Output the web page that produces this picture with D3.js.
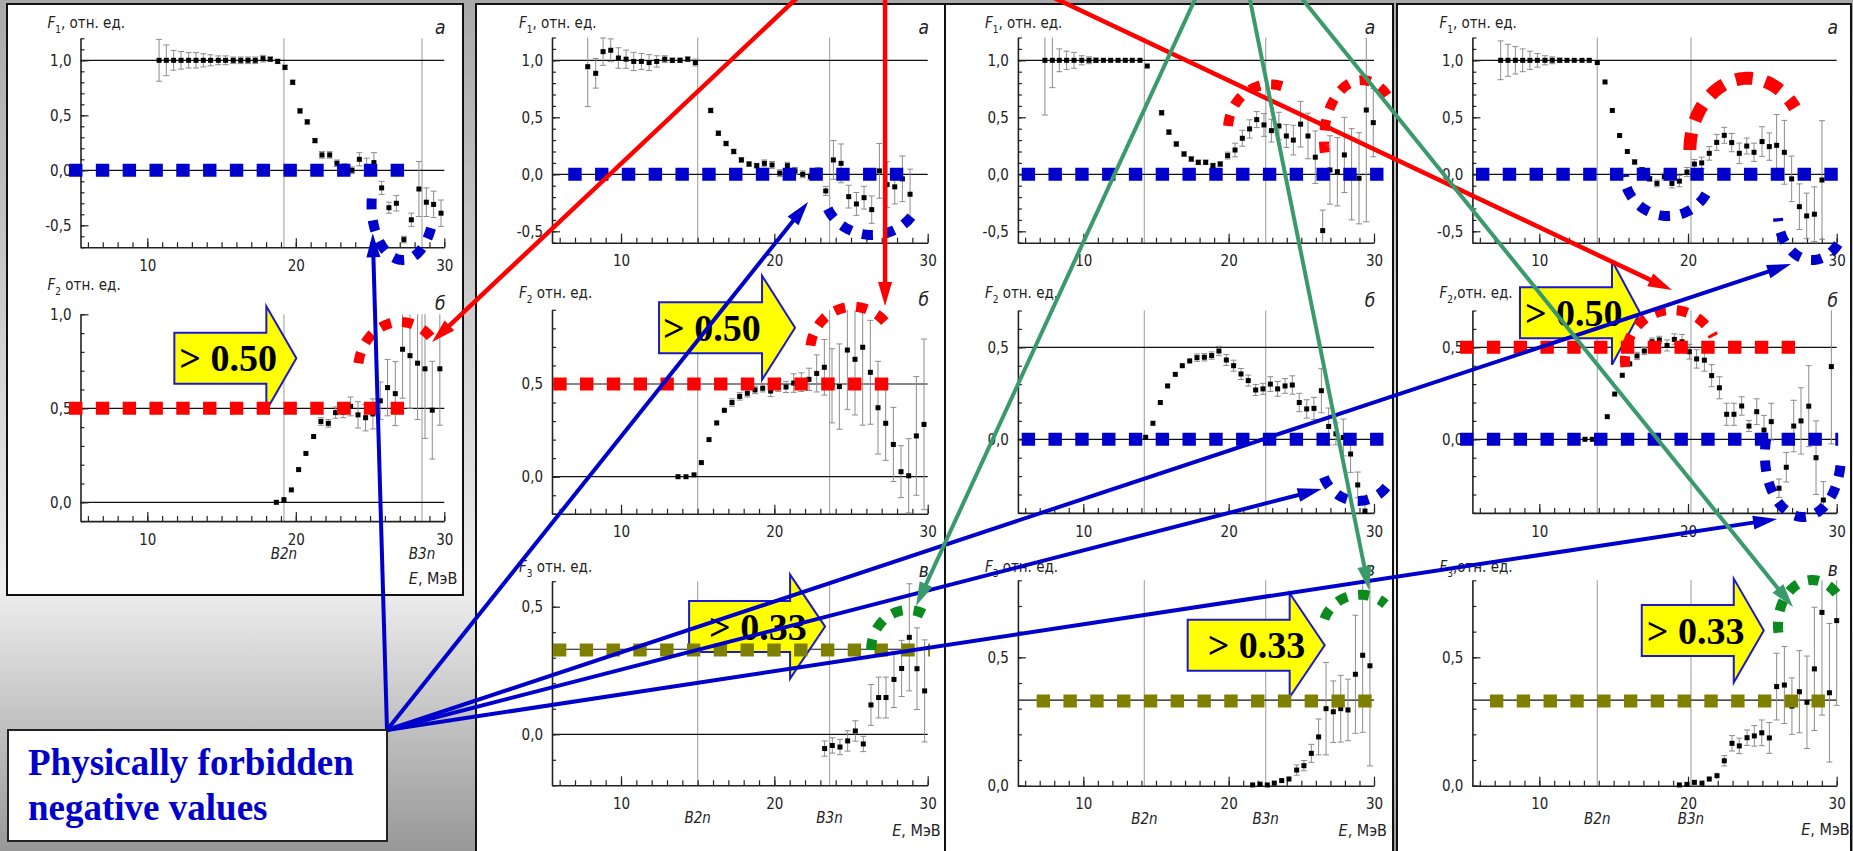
<!DOCTYPE html>
<html>
<head>
<meta charset="utf-8">
<script src="https://cdn.jsdelivr.net/npm/d3@7"></script>
<style>
  html, body { margin: 0; padding: 0; overflow: hidden; }
  svg { display: block; }
  .tick text, .lab { font-family: "Liberation Sans Narrow", "Arial Narrow", "DejaVu Sans Condensed", sans-serif; fill: #222; }
</style>
</head>
<body>
<svg id="fig" width="1853" height="851"></svg>
<script>
// ---------------------------------------------------------------
// Energy axis (MeV), common to every plot
const energyDomain = [5.5, 30];
const energyMajorTicks = [10, 20, 30];
const energyMinorTicks = d3.range(6, 31, 1);

// Separation thresholds B2n and B3n for the four nuclei (left to right)
const thresholdB2n = [19.2, 15.0, 14.2, 13.9];
const thresholdB3n = [28.5, 23.6, 22.55, 20.2];

// Limits of F1, F2, F3 for a physical multiplicity distribution
const limitF1 = 0;
const limitF2 = 0.5;
const limitF3 = 0.33;
const calloutTexts = { F2: "> 0.50", F3: "> 0.33" };

// Measured ratios: [E (MeV), F, error]
const p1F1 = [
  [10.79,1.00,0.19],[11.28,1.00,0.14],[11.77,1.00,0.09],[12.27,1.00,0.08],[12.78,1.00,0.07],[13.28,1.00,0.07],
  [13.77,1.00,0.06],[14.26,1.00,0.05],[14.78,1.00,0.04],[15.27,1.00,0.04],[15.79,1.00,0.03],[16.29,1.00,0.03],
  [16.78,1.00,0.03],[17.27,1.00,0.03],[17.79,1.015,0.03],[18.28,1.01,0.02],[18.78,0.99,0.02],[19.27,0.936,0.02],
  [19.79,0.80,0.02],[20.28,0.54,0.02],[20.77,0.44,0.02],[21.29,0.27,0.02],[21.76,0.14,0.03],[22.28,0.14,0.03],
  [22.77,0.064,0.03],[23.29,0.02,0.04],[23.78,0.0,0.03],[24.28,0.10,0.06],[24.77,0.03,0.08],[25.26,0.07,0.09],
  [25.78,-0.16,0.06],[26.27,-0.34,0.05],[26.77,-0.30,0.07],[27.28,-0.63,0.03],[27.78,-0.45,0.06],[28.29,-0.17,0.25],
  [28.79,-0.29,0.13],[29.28,-0.31,0.12],[29.78,-0.39,0.12]
];
const p1F2 = [
  [18.69,0.0,0.005],[19.2,0.014,0.01],[19.7,0.066,0.01],[20.19,0.174,0.01],[20.68,0.26,0.01],[21.2,0.35,0.015],
  [21.69,0.43,0.02],[22.19,0.42,0.02],[22.68,0.477,0.03],[23.19,0.48,0.03],[23.69,0.51,0.05],[24.19,0.465,0.07],
  [24.7,0.45,0.07],[25.19,0.47,0.08],[25.69,0.54,0.1],[26.18,0.61,0.15],[26.7,0.578,0.17],[27.19,0.814,0.26],
  [27.69,0.78,0.28],[28.2,0.74,0.3],[28.7,0.71,0.37],[29.19,0.49,0.26],[29.7,0.71,0.3]
];
const p2F1 = [
  [7.83,0.944,0.35],[8.35,0.886,0.13],[8.83,1.076,0.12],[9.33,1.088,0.1],[9.83,1.02,0.09],[10.33,1.01,0.08],
  [10.83,0.99,0.08],[11.33,0.99,0.07],[11.83,0.98,0.07],[12.33,0.99,0.05],[12.85,1.01,0.03],[13.35,1.0,0.02],
  [13.85,1.0,0.02],[14.35,1.01,0.02],[14.85,0.98,0.03],[15.85,0.56,0.02],[16.35,0.36,0.02],
  [16.85,0.27,0.02],[17.35,0.2,0.02],[17.85,0.126,0.02],[18.35,0.09,0.02],[18.85,0.076,0.02],[19.35,0.096,0.03],
  [19.85,0.082,0.03],[20.35,0.01,0.03],[20.85,0.076,0.03],[21.35,0.03,0.03],[21.85,0.0,0.03],[22.35,-0.02,0.03],
  [22.85,0.02,0.04],[23.35,-0.146,0.04],[23.85,0.126,0.17],[24.35,0.096,0.17],[24.85,-0.196,0.1],[25.35,-0.26,0.1],
  [25.85,-0.205,0.1],[26.35,-0.31,0.12],[26.85,0.03,0.24],[27.35,-0.09,0.2],[27.85,-0.11,0.15],[28.35,-0.04,0.2],
  [28.85,-0.175,0.22]
];
const p2F2 = [
  [13.72,0.0,0.005],[14.24,0.0,0.005],[14.76,0.01,0.005],[15.24,0.076,0.01],[15.74,0.2,0.01],[16.24,0.29,0.015],
  [16.74,0.358,0.015],[17.24,0.4,0.02],[17.74,0.433,0.02],[18.24,0.45,0.02],[18.74,0.468,0.02],[19.24,0.477,0.02],
  [19.76,0.462,0.03],[20.26,0.49,0.03],[20.76,0.484,0.03],[21.26,0.505,0.05],[21.76,0.51,0.05],[22.26,0.525,0.06],
  [22.76,0.557,0.1],[23.26,0.59,0.15],[23.76,0.49,0.2],[24.24,0.486,0.23],[24.76,0.683,0.32],[25.26,0.633,0.3],
  [25.76,0.698,0.42],[26.26,0.563,0.28],[26.76,0.372,0.25],[27.26,0.288,0.2],[27.76,0.174,0.2],[28.26,0.027,0.14],
  [28.76,0.005,0.2],[29.26,0.22,0.32],[29.76,0.282,0.46]
];
const p2F3 = [
  [23.28,-0.056,0.03],[23.78,-0.044,0.03],[24.28,-0.05,0.03],[24.78,-0.026,0.04],[25.28,0.013,0.04],[25.8,-0.038,0.03],
  [26.3,0.115,0.08],[26.8,0.144,0.08],[27.28,0.144,0.08],[27.8,0.215,0.11],[28.3,0.258,0.11],[28.8,0.38,0.21],
  [29.3,0.257,0.16],[29.8,0.17,0.2]
];
const p3F1 = [
  [7.36,1.0,0.48],[7.87,1.0,0.24],[8.35,1.0,0.1],[8.85,1.0,0.08],[9.36,1.0,0.07],[9.89,1.0,0.04],[10.39,1.0,0.03],
  [10.87,1.0,0.02],[11.38,1.0,0.015],[11.88,1.0,0.01],[12.39,1.0,0.01],[12.89,1.0,0.01],[13.37,1.0,0.01],[13.9,1.0,0.01],
  [14.4,0.95,0.01],[15.39,0.54,0.02],[15.89,0.37,0.02],[16.4,0.266,0.02],[16.93,0.178,0.02],[17.43,0.134,0.02],
  [17.91,0.105,0.02],[18.42,0.105,0.02],[18.92,0.076,0.02],[19.42,0.09,0.02],[19.93,0.164,0.03],[20.44,0.213,0.06],
  [20.94,0.316,0.07],[21.44,0.398,0.08],[21.93,0.48,0.07],[22.43,0.433,0.1],[22.94,0.383,0.1],[23.46,0.424,0.12],
  [23.97,0.336,0.1],[24.45,0.3,0.13],[24.95,0.44,0.2],[25.46,0.336,0.2],[25.96,0.15,0.23],[26.47,-0.494,0.18],
  [26.97,0.038,0.3],[27.48,0.023,0.3],[27.96,0.17,0.33],[28.46,0.0,0.4],[28.97,-0.035,0.4],[29.47,0.564,0.98],
  [29.95,0.453,0.3]
];
const p3F2 = [
  [14.29,0.011,0.005],[14.79,0.087,0.008],[15.3,0.2,0.01],[15.8,0.29,0.01],[16.33,0.353,0.01],[16.81,0.4,0.01],
  [17.32,0.426,0.015],[17.82,0.444,0.02],[18.33,0.446,0.02],[18.83,0.455,0.02],[19.33,0.48,0.025],[19.84,0.431,0.03],
  [20.34,0.4,0.03],[20.85,0.355,0.03],[21.35,0.319,0.03],[21.86,0.268,0.03],[22.36,0.274,0.03],[22.87,0.3,0.04],
  [23.37,0.274,0.04],[23.88,0.29,0.04],[24.38,0.295,0.05],[24.86,0.2,0.05],[25.37,0.165,0.05],[25.87,0.168,0.06],
  [26.38,0.264,0.12],[26.88,0.07,0.1],[27.38,0.03,0.06],[27.89,0.01,0.1],[28.39,-0.08,0.1],[28.88,-0.248,0.07],
  [29.38,-0.39,0.05]
];
const p3F3 = [
  [21.65,0.003,0.002],[22.16,0.006,0.002],[22.66,0.003,0.002],[23.14,0.01,0.004],[23.65,0.02,0.005],[24.15,0.026,0.01],
  [24.68,0.061,0.02],[25.18,0.078,0.02],[25.69,0.126,0.035],[26.19,0.19,0.07],[26.7,0.3,0.18],[27.2,0.288,0.12],
  [27.71,0.3,0.13],[28.21,0.295,0.12],[28.72,0.434,0.23],[29.22,0.508,0.3],[29.72,0.467,0.39]
];
const p4F1 = [
  [7.4,1.0,0.17],[7.89,1.0,0.14],[8.39,1.0,0.12],[8.88,1.0,0.1],[9.37,1.0,0.08],[9.87,1.0,0.06],[10.38,1.0,0.04],
  [10.87,1.0,0.03],[11.37,1.0,0.02],[11.86,1.0,0.01],[12.35,1.0,0.01],[12.87,1.0,0.01],[13.36,1.0,0.01],[13.9,0.98,0.01],
  [14.42,0.81,0.01],[14.91,0.56,0.01],[15.4,0.34,0.015],[15.92,0.2,0.015],[16.41,0.108,0.02],[16.9,0.04,0.02],
  [17.42,-0.04,0.02],[17.91,-0.08,0.03],[18.41,-0.02,0.03],[18.92,-0.08,0.04],[19.42,-0.06,0.05],[19.93,0.02,0.04],
  [20.43,0.09,0.04],[20.92,0.1,0.05],[21.43,0.184,0.06],[21.93,0.28,0.07],[22.44,0.342,0.07],[22.94,0.278,0.08],
  [23.45,0.184,0.09],[23.95,0.248,0.07],[24.44,0.193,0.08],[24.98,0.287,0.13],[25.47,0.243,0.12],[25.96,0.254,0.27],
  [26.48,0.193,0.28],[26.97,-0.04,0.2],[27.49,-0.284,0.2],[27.98,-0.365,0.2],[28.5,-0.35,0.24],[29.01,-0.05,0.52]
];
const p4F2 = [
  [13.07,0.0,0.004],[13.57,0.0,0.004],[14.06,0.02,0.006],[14.57,0.123,0.008],[15.07,0.246,0.01],[15.58,0.348,0.012],
  [16.08,0.41,0.015],[16.57,0.453,0.02],[17.06,0.48,0.02],[17.58,0.53,0.02],[18.07,0.54,0.02],[18.59,0.51,0.03],
  [19.08,0.543,0.03],[19.6,0.53,0.04],[20.09,0.476,0.04],[20.58,0.437,0.05],[21.1,0.43,0.06],[21.59,0.346,0.06],
  [22.11,0.28,0.06],[22.6,0.136,0.06],[23.09,0.136,0.06],[23.61,0.181,0.05],[24.1,0.072,0.03],[24.62,0.15,0.07],
  [25.11,0.05,0.08],[25.6,0.096,0.1],[26.12,-0.266,0.05],[26.61,-0.152,0.08],[27.11,0.072,0.14],[27.6,0.1,0.18],
  [28.12,0.18,0.22],[28.61,-0.1,0.2],[29.1,-0.33,0.1],[29.64,0.395,0.42]
];
const p4F3 = [
  [19.42,0.003,0.002],[19.93,0.005,0.002],[20.43,0.013,0.01],[20.94,0.01,0.005],[21.43,0.026,0.01],[21.95,0.039,0.012],
  [22.44,0.097,0.02],[22.96,0.165,0.03],[23.45,0.155,0.03],[23.97,0.187,0.03],[24.46,0.194,0.04],[24.96,0.206,0.05],
  [25.47,0.186,0.06],[25.96,0.386,0.13],[26.48,0.392,0.15],[26.99,0.31,0.11],[27.49,0.366,0.16],[28.0,0.325,0.18],
  [28.5,0.455,0.24],[29.01,0.675,0.4],[29.51,0.362,0.27],[30.0,0.643,0.33]
];
const series = {
  "p1.F1": p1F1, "p1.F2": p1F2,
  "p2.F1": p2F1, "p2.F2": p2F2, "p2.F3": p2F3,
  "p3.F1": p3F1, "p3.F2": p3F2, "p3.F3": p3F3,
  "p4.F1": p4F1, "p4.F2": p4F2, "p4.F3": p4F3
};

// Dashed limit lines: plot, kind, energy span
const limitLines = [
  ["p1.F1","F1",4.73,27.35], ["p1.F2","F2",4.73,27.35],
  ["p2.F1","F1",6.56,28.53], ["p2.F2","F2",5.58,27.46], ["p2.F3","F3",5.56,30.15],
  ["p3.F1","F1",5.76,30.76], ["p3.F2","F1",5.76,30.76], ["p3.F3","F3",6.79,29.95],
  ["p4.F1","F1",5.74,30.1], ["p4.F2","F2",4.67,27.31], ["p4.F2","F1",4.67,30.1], ["p4.F3","F3",6.68,29.33]
];

// Dotted rings around the violating points: plot, colour, centre E, centre F, radius E, radius F, start/end angle (deg)
const rings = [
  ["p1.F1","blue",27.2,-0.315,2.1,0.5,25,194],
  ["p1.F2","red",27.02,0.704,2.83,0.255,188,330],
  ["p2.F1","blue",26.37,-0.155,3.13,0.377,35,160],
  ["p2.F2","red",25.13,0.673,2.8,0.243,188,332],
  ["p2.F3","green",28.72,0.33,2.41,0.157,180,310],
  ["p3.F1","red",22.84,0.389,2.89,0.4,185,300],
  ["p3.F1","red",29.17,0.3,2.61,0.526,168,325],
  ["p3.F2","blue",28.9,-0.123,2.55,0.212,40,172],
  ["p3.F3","green",29.04,0.6,2.61,0.144,200,312],
  ["p4.F1","blue",18.65,0.02,2.96,0.386,30,176],
  ["p4.F1","blue",28.34,-0.357,2.29,0.395,40,176],
  ["p4.F1","red",24.03,0.213,3.9,0.63,180,325],
  ["p4.F2","red",18.92,0.431,3.16,0.272,172,332],
  ["p4.F2","blue",27.73,-0.085,2.56,0.337,10,200],
  ["p4.F3","green",28.34,0.626,2.29,0.175,170,330]
];

// Yellow callouts: plot, kind, E and F of the left-middle of the arrow body
const callouts = [
  ["p1.F2","F2",11.82,0.766], ["p2.F2","F2",12.48,0.803], ["p2.F3","F3",14.44,0.422],
  ["p3.F3","F3",17.18,0.547], ["p4.F2","F2",8.70,0.6875], ["p4.F3","F3",16.89,0.604]
];

// Pointer arrows: colour, start (plot, E, F) or the note box, tip (plot, E, F)
const pointers = [
  ["blue","note",["p1.F1",25.18,-0.573]],
  ["blue","note",["p2.F1",22.2,-0.243]],
  ["blue","note",["p3.F2",26.4,-0.27]],
  ["blue","note",["p4.F1",26.93,-0.787]],
  ["blue","note",["p4.F2",25.99,-0.433]],
  ["red",["p2.F1",21.68,1.573],["p1.F2",29.17,0.853]],
  ["red",["p2.F1",27.22,1.573],["p2.F2",27.22,0.921]],
  ["red",["p3.F1",7.57,1.573],["p4.F2",18.92,0.811]],
  ["green",["p3.F1",17.82,1.573],["p2.F3",29.24,0.503]],
  ["green",["p3.F1",21.4,1.573],["p3.F3",29.66,0.762]],
  ["green",["p3.F1",24.84,1.573],["p4.F3",27.06,0.696]]
];
const noteLines = ["Physically forbidden", "negative values"];

// ---------------------------------------------------------------
// Page geometry
const W = 1853, H = 851;
const panels = [
  { id: "p1", frame: [7, 4, 456, 591], xRange: [80.5, 444.3], eDy: 63,
    charts: {
      F1: { dom: [-0.7, 1.2], rng: [247.3, 38.3], labY: 28, suffix: ", отн. ед.", letter: "а", refs: [0, 1] },
      F2: { dom: [-0.1, 1.0], rng: [521.1, 314.3], labY: 290, suffix: " отн. ед.", letter: "б", refs: [0, 0.5] }
    } },
  { id: "p2", frame: [476, 4, 469, 860], xRange: [552, 927.7], eDy: 51,
    charts: {
      F1: { dom: [-0.6, 1.2], rng: [242.7, 37.5], labY: 28, suffix: ", отн. ед.", letter: "а", refs: [0, 1] },
      F2: { dom: [-0.2, 0.9], rng: [513.8, 309.8], labY: 298, suffix: " отн. ед.", letter: "б", refs: [0, 0.5] },
      F3: { dom: [-0.2, 0.6], rng: [785.3, 581.2], labY: 572, suffix: " отн. ед.", letter: "в", refs: [0, 1/3] }
    } },
  { id: "p3", frame: [945, 4, 448, 860], xRange: [1017.9, 1374], eDy: 50,
    charts: {
      F1: { dom: [-0.6, 1.2], rng: [242.7, 37.5], labY: 28, suffix: ", отн. ед.", letter: "а", refs: [0, 1] },
      F2: { dom: [-0.4, 0.7], rng: [512.9, 310.5], labY: 298, suffix: " отн. ед.", letter: "б", refs: [0, 0.5] },
      F3: { dom: [0, 0.8], rng: [785.7, 580.3], labY: 572, suffix: " отн. ед.", letter: "в", refs: [1/3] }
    } },
  { id: "p4", frame: [1397, 4, 454, 860], xRange: [1472.4, 1836.7], eDy: 49,
    charts: {
      F1: { dom: [-0.6, 1.2], rng: [242.7, 37.5], labY: 28, suffix: ", отн. ед.", letter: "а", refs: [0, 1] },
      F2: { dom: [-0.4, 0.7], rng: [512.9, 310.5], labY: 298, suffix: ",отн. ед.", letter: "б", refs: [0, 0.5] },
      F3: { dom: [0, 0.8], rng: [785.7, 580.3], labY: 572, suffix: ",отн. ед.", letter: "в", refs: [1/3] }
    } }
];
// callout shapes in the same order as the callouts: body width, head length, text inset (px)
const calloutShapes = [[92, 30, 5], [103, 33, 4], [101, 35, 20], [102, 35, 20], [92, 28, 5], [92, 30, 5]];
const note = { x: 8, y: 730, w: 379, h: 111 };
const colors = { blue: "#0000cc", red: "#ff0000", green: "#3b9a6c", olive: "#808000", ringGreen: "#0b8a1e" };
const limitStyle = { F1: [limitF1, colors.blue], F2: [limitF2, colors.red], F3: [limitF3, colors.olive] };

const svg = d3.select("#fig");
const defs = svg.append("defs");
const bg = defs.append("linearGradient").attr("id", "bg").attr("x1", 0).attr("y1", 0).attr("x2", 0).attr("y2", 1);
bg.selectAll("stop").data([[0, "#a9a9a9"], [0.69, "#eeeeee"], [1, "#989898"]]).join("stop")
  .attr("offset", d => d[0]).attr("stop-color", d => d[1]);
svg.append("rect").attr("width", W).attr("height", H).attr("fill", "url(#bg)");

const plots = {};
const fmtF = d => d3.format(".1f")(d).replace(".", ",").replace("\u2212", "-");

panels.forEach((p, pi) => {
  const g = svg.append("g");
  g.append("rect").attr("x", p.frame[0]).attr("y", p.frame[1]).attr("width", p.frame[2]).attr("height", p.frame[3])
    .attr("fill", "#fff").attr("stroke", "#111").attr("stroke-width", 2);
  const x = d3.scaleLinear().domain(energyDomain).range(p.xRange);
  const keys = Object.keys(p.charts);
  keys.forEach((k, ki) => {
    const c = p.charts[k];
    const y = d3.scaleLinear().domain(c.dom).range(c.rng);
    plots[p.id + "." + k] = { x, y };
    const cg = g.append("g");
    const top = c.rng[1], bottom = c.rng[0];

    // B2n / B3n threshold markers
    [thresholdB2n[pi], thresholdB3n[pi]].forEach(b => {
      cg.append("line").attr("x1", x(b)).attr("x2", x(b)).attr("y1", top).attr("y2", bottom)
        .attr("stroke", "#aaa").attr("stroke-width", 1.2);
    });
    // reference levels
    c.refs.forEach(v => {
      cg.append("line").attr("x1", x(energyDomain[0])).attr("x2", x(energyDomain[1]))
        .attr("y1", y(v)).attr("y2", y(v)).attr("stroke", "#111").attr("stroke-width", 1.2);
    });

    // axes with inward ticks
    const minorY = d3.range(Math.round(c.dom[0] * 10), Math.round(c.dom[1] * 10) + 1).map(v => v / 10);
    const majorY = minorY.filter(v => Math.abs(Math.round(v * 2) - v * 2) < 1e-6);
    const axB = cg.append("g").attr("transform", `translate(0,${bottom})`);
    axB.call(d3.axisBottom(x).tickValues(energyMinorTicks).tickSize(-5).tickSizeOuter(0).tickFormat(""));
    axB.append("g").call(d3.axisBottom(x).tickValues(energyMajorTicks).tickSize(-9).tickSizeOuter(0).tickPadding(13))
      .call(s => s.select(".domain").remove());
    const axL = cg.append("g").attr("transform", `translate(${x(energyDomain[0])},0)`);
    axL.call(d3.axisLeft(y).tickValues(minorY).tickSize(-4).tickSizeOuter(0).tickFormat(""));
    axL.append("g").call(d3.axisLeft(y).tickValues(majorY).tickSize(-8).tickSizeOuter(0).tickPadding(9).tickFormat(fmtF))
      .call(s => s.select(".domain").remove());
    cg.selectAll(".domain").attr("stroke", "#222").attr("stroke-width", 1.6);
    cg.selectAll(".tick line").attr("stroke", "#222").attr("stroke-width", 1.2);
    cg.selectAll(".tick text").attr("font-size", 15);

    // axis title
    const t = cg.append("text").attr("class", "lab").attr("x", x(energyDomain[0]) - 33).attr("y", c.labY).attr("font-size", 15);
    t.append("tspan").attr("font-style", "italic").text("F");
    t.append("tspan").attr("dy", 5).attr("font-size", 10).text(k.slice(1));
    t.append("tspan").attr("dy", -5).text(c.suffix);
    cg.append("text").attr("class", "lab").attr("x", x(30) - 4).attr("y", top - 4).attr("text-anchor", "middle")
      .attr("font-size", 19).attr("font-style", "italic").text(c.letter);

    if (ki === keys.length - 1) {
      [["B2n", thresholdB2n[pi]], ["B3n", thresholdB3n[pi]]].forEach(([lab, b]) => {
        cg.append("text").attr("class", "lab").attr("x", x(b)).attr("y", bottom + 38).attr("text-anchor", "middle")
          .attr("font-size", 15).attr("font-style", "italic").text(lab);
      });
      const e = cg.append("text").attr("class", "lab").attr("x", x(30) + 13).attr("y", bottom + p.eDy)
        .attr("text-anchor", "end").attr("font-size", 16);
      e.append("tspan").attr("font-style", "italic").text("E");
      e.append("tspan").text(", МэВ");
    }

    // error bars and points
    const pts = series[p.id + "." + k];
    const lo = d => Math.max(d[1] - d[2], c.dom[0]), hi = d => Math.min(d[1] + d[2], c.dom[1]);
    const eb = cg.append("g").attr("stroke", "#8c8c8c").attr("stroke-width", 1);
    pts.forEach(d => {
      const cx = x(d[0]);
      eb.append("line").attr("x1", cx).attr("x2", cx).attr("y1", y(lo(d))).attr("y2", y(hi(d)));
      if (d[2] > 0.015) {
        if (d[1] - d[2] >= c.dom[0]) eb.append("line").attr("x1", cx - 3).attr("x2", cx + 3).attr("y1", y(lo(d))).attr("y2", y(lo(d)));
        if (d[1] + d[2] <= c.dom[1]) eb.append("line").attr("x1", cx - 3).attr("x2", cx + 3).attr("y1", y(hi(d))).attr("y2", y(hi(d)));
      }
    });
    cg.append("g").selectAll("rect").data(pts).join("rect")
      .attr("x", d => x(d[0]) - 2.5).attr("y", d => y(d[1]) - 2.5).attr("width", 5).attr("height", 5).attr("fill", "#000");
  });
});

// yellow callout arrows
const cl = svg.append("g");
callouts.forEach(([key, kind, e, f], i) => {
  const { x, y } = plots[key];
  const [bw, hl, inset] = calloutShapes[i];
  const bx = x(e), cy = y(f), bh = 25.5, hh = 52;
  cl.append("path")
    .attr("d", `M${bx},${cy - bh}H${bx + bw}V${cy - hh}L${bx + bw + hl},${cy}L${bx + bw},${cy + hh}V${cy + bh}H${bx}Z`)
    .attr("fill", "#ffff00").attr("stroke", "#1a1acc").attr("stroke-width", 2);
  cl.append("text").attr("x", bx + inset).attr("y", cy + 13)
    .attr("font-family", "'Liberation Serif', 'Times New Roman', serif").attr("font-weight", "bold")
    .attr("font-size", 38).attr("fill", "#000").text(calloutTexts[kind]);
});

// dashed limit lines
const ll = svg.append("g");
limitLines.forEach(([key, kind, e0, e1]) => {
  const { x, y } = plots[key];
  const [v, col] = limitStyle[kind];
  ll.append("line").attr("x1", x(e0)).attr("x2", x(e1)).attr("y1", y(v)).attr("y2", y(v))
    .attr("stroke", col).attr("stroke-width", 13).attr("stroke-dasharray", "13.4 13.4");
});

// dotted rings
const rg = svg.append("g").attr("fill", "none");
rings.forEach(([key, col, ce, cf, re, rf, a0, a1]) => {
  const { x, y } = plots[key];
  const cx = x(ce), cy = y(cf), rx = x(ce + re) - cx, ry = cy - y(cf + rf);
  const pts = d3.range(a0, a1 + 0.001, 2).map(a => [cx + rx * Math.cos(a * Math.PI / 180), cy + ry * Math.sin(a * Math.PI / 180)]);
  const big = key === "p4.F1" && col === "red";
  rg.append("path").attr("d", d3.line()(pts))
    .attr("stroke", col === "green" ? colors.ringGreen : colors[col])
    .attr("stroke-width", big ? 13 : 10).attr("stroke-dasharray", big ? "17 13" : "11 11");
});

// pointer arrows
const pg = svg.append("g");
function at(ref) {
  if (ref === "note") return [note.x + note.w, note.y];
  const { x, y } = plots[ref[0]];
  return [x(ref[1]), y(ref[2])];
}
["blue", "red", "green"].forEach(col => {
  pointers.filter(d => d[0] === col).forEach(([c, from, to]) => {
    const p0 = at(from), p1 = at(to);
    const dx = p1[0] - p0[0], dy = p1[1] - p0[1], L = Math.hypot(dx, dy);
    const ux = dx / L, uy = dy / L, hl = 24, hw = 7;
    const bx = p1[0] - ux * hl, by = p1[1] - uy * hl;
    pg.append("line").attr("x1", p0[0]).attr("y1", p0[1]).attr("x2", bx + ux * 3).attr("y2", by + uy * 3)
      .attr("stroke", colors[c]).attr("stroke-width", c === "red" ? 4.5 : 4);
    pg.append("path").attr("d", `M${p1[0]},${p1[1]}L${bx - uy * hw},${by + ux * hw}L${bx + uy * hw},${by - ux * hw}Z`)
      .attr("fill", colors[c]);
  });
});

// note box
svg.append("rect").attr("x", note.x).attr("y", note.y).attr("width", note.w).attr("height", note.h)
  .attr("fill", "#fff").attr("stroke", "#222").attr("stroke-width", 2);
svg.append("g").selectAll("text").data(noteLines).join("text")
  .attr("x", note.x + 20).attr("y", (d, i) => note.y + 45 + i * 45)
  .attr("font-family", "'Liberation Serif', 'Times New Roman', serif").attr("font-weight", "bold")
  .attr("font-size", 37).attr("fill", "#0000cc").text(d => d);
</script>
</body>
</html>
